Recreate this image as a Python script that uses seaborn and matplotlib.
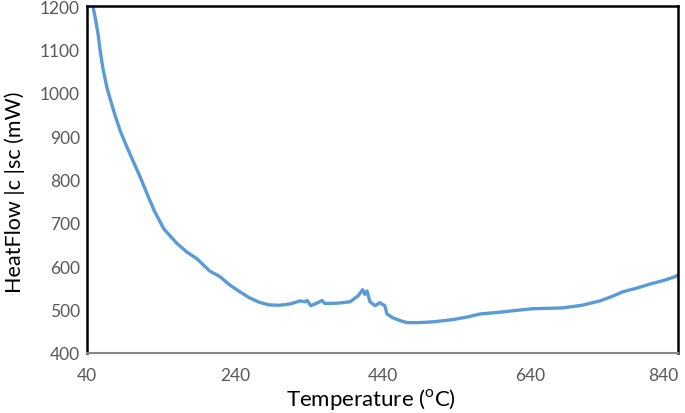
import pandas as pd
import seaborn as sns
import matplotlib.pyplot as plt

# Values
temperature = [48, 52, 55, 58, 62, 67, 72, 78, 85, 94, 103, 112, 122, 131, 144, 162, 175, 189, 206,
               220, 233, 247, 260, 273, 286, 300, 315, 328, 335, 338, 343, 350, 358, 362,
               380, 396, 407, 413, 416, 419, 423, 430, 436, 443, 446, 454, 463, 473, 490,
               510, 535, 555, 572, 599, 620, 643, 665, 684, 710, 734, 750, 765, 785, 802,
               820, 836, 840]
heatflow = [1200, 1165, 1135, 1094, 1052, 1012, 982, 948, 912, 875, 840, 806, 764, 728, 686, 652, 633,
            617, 589, 576, 557, 541, 527, 517, 511, 510, 513, 520, 518, 521, 509, 514, 521, 514,
            515, 518, 532, 546, 535, 543, 518, 509, 516, 509, 490, 481, 475, 470, 470,
            472, 477, 483, 490, 494, 498, 502, 503, 504, 510, 520, 530, 541, 550, 559,
            567, 576, 580]

df = pd.DataFrame({'Temperature': temperature, 'HeatFlow': heatflow})

sns.set_style('white')
plt.rcParams['font.family'] = ['Lato', 'DejaVu Sans']

fig = plt.figure(figsize=(6.85, 4.14), dpi=100)
ax = fig.add_axes([0.127, 0.145, 0.863, 0.838])

sns.lineplot(data=df, x='Temperature', y='HeatFlow', color='#5B9BD5', linewidth=2.4, ax=ax)

ax.set_xlim(40, 840)
ax.set_ylim(400, 1200)
ax.set_xticks([40, 240, 440, 640, 840])
ax.set_yticks(range(400, 1201, 100))
ax.tick_params(axis='both', length=0, labelsize=12.5, labelcolor='#595959')
ax.tick_params(axis='x', pad=10)
ax.tick_params(axis='y', pad=5)
# last x label sits inside the figure, as in the original
ax.get_xticklabels()[-1].set_horizontalalignment('right')

for side in ['left', 'top', 'right']:
    ax.spines[side].set_color('black')
    ax.spines[side].set_linewidth(1.8)
ax.spines['bottom'].set_color('#868686')
ax.spines['bottom'].set_linewidth(1.5)

ax.set_xlabel(r'Temperature ($^{\mathregular{o}}$C)', fontsize=16, color='black')
ax.set_ylabel('HeatFlow |c |sc (mW)', fontsize=15.5, color='black')
ax.xaxis.set_label_coords(0.48, -0.095)
ax.yaxis.set_label_coords(-0.105, 0.467)

plt.savefig('out.png', dpi=100)
